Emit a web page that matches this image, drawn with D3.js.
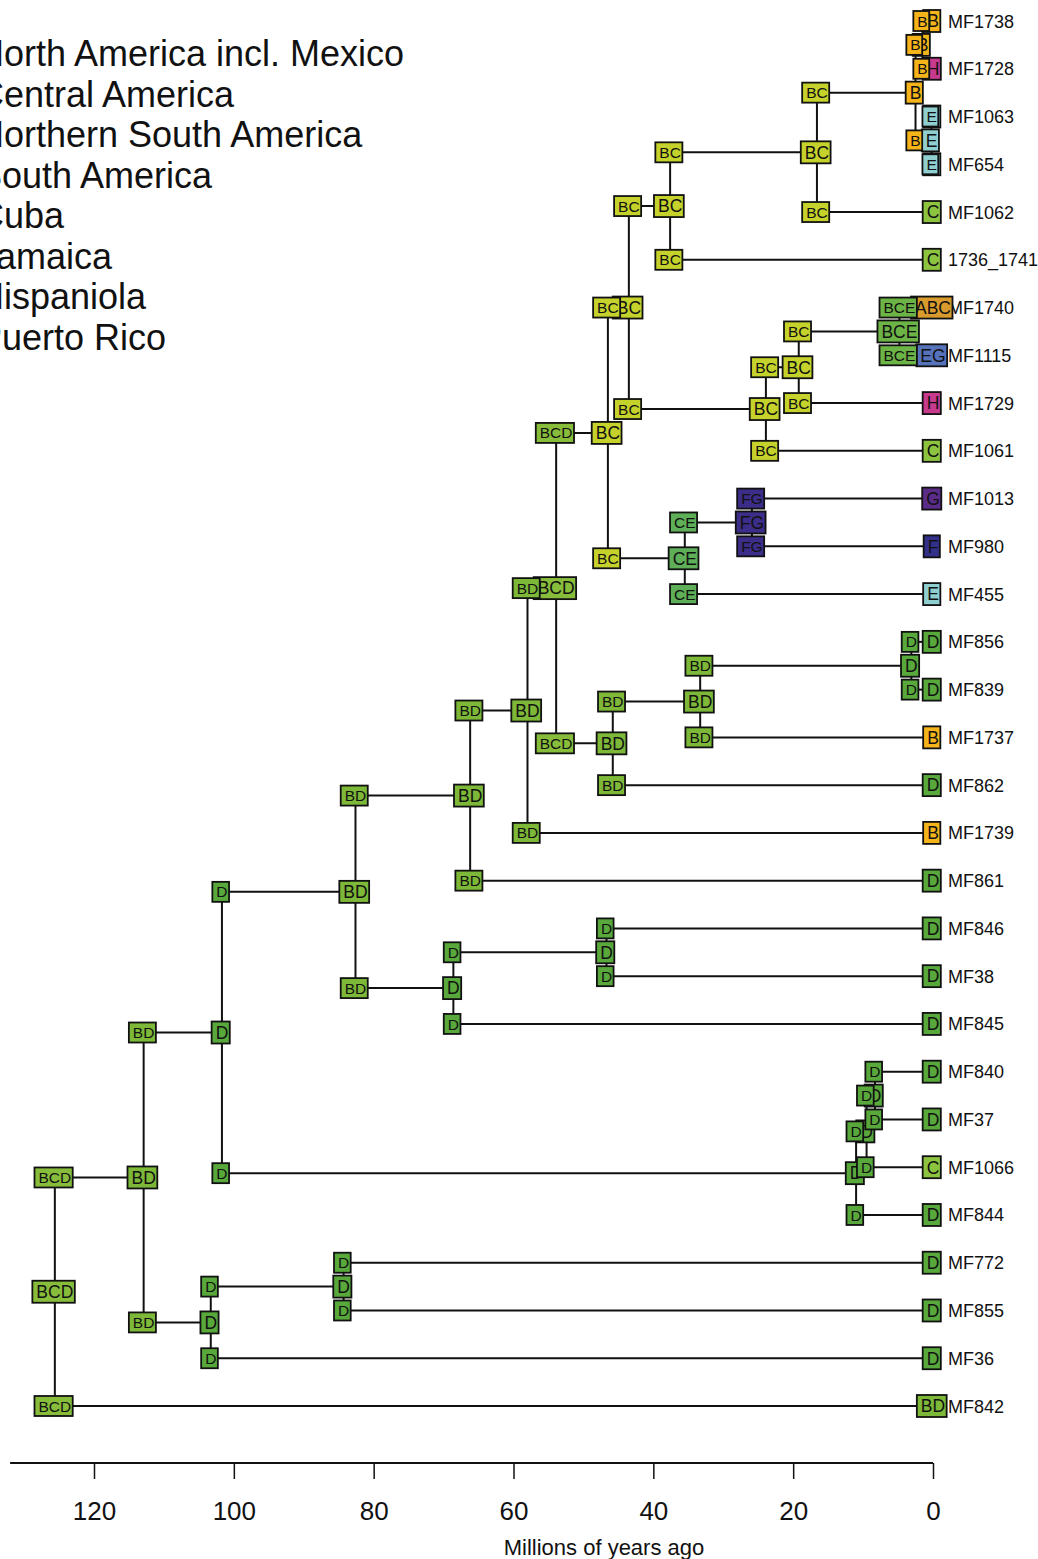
<!DOCTYPE html>
<html>
<head>
<meta charset="utf-8">
<script src="https://cdn.jsdelivr.net/npm/d3@7"></script>
<style>
  html, body { margin: 0; padding: 0; background: #ffffff; }
  svg { display: block; }
  text { font-family: "Liberation Sans", Arial, Helvetica, sans-serif; }
</style>
</head>
<body>
<svg id="chart" width="1038" height="1559"></svg>
<script>
// ---- Tips, listed top to bottom ----
const tipNames   = ["MF1738","MF1728","MF1063","MF654","MF1062","1736_1741","MF1740","MF1115","MF1729","MF1061",
                    "MF1013","MF980","MF455","MF856","MF839","MF1737","MF862","MF1739","MF861","MF846",
                    "MF38","MF845","MF840","MF37","MF1066","MF844","MF772","MF855","MF36","MF842"];
const tipStates  = ["B","H","E","E","C","C","ABC","EG","H","C",
                    "G","F","E","D","D","B","D","B","D","D",
                    "D","D","D","D","C","D","D","D","D","BD"];
const tipParents = ["n19","n19","n20","n20","n17","n15","n22","n22","n21","n16",
                    "n23","n23","n14","n25","n25","n24","n12","n9","n7","n26",
                    "n26","n8","n28","n28","n27","n6","n29","n29","n4","n1"];
// range at the base of each tip branch (just after the split)
const tipCorners = ["B","B","E","E","BC","BC","BCE","BCE","BC","BC",
                    "FG","FG","CE","D","D","BD","BD","BD","BD","D",
                    "D","D","D","D","D","D","D","D","D","BCD"];

// ---- Internal nodes ----
const nodeIds     = ["n1","n2","n3","n4","n5","n6","n7","n8","n9","n10",
                     "n11","n12","n13","n14","n15","n16","n17","n18","n19","n20",
                     "n21","n22","n23","n24","n25","n26","n27","n28","n29"];
const nodeParents = ["","n1","n2","n2","n3","n3","n5","n5","n7","n9",
                     "n10","n10","n11","n11","n13","n13","n15","n17","n18","n18",
                     "n16","n21","n14","n12","n24","n8","n6","n27","n4"];
// node ages in millions of years
const nodeAges    = [125.6,112.9,101.7,103.3,82.6,11.0,66.2,68.6,58.0,53.9,
                     46.5,45.8,43.5,35.5,37.6,23.9,16.6,2.5,1.5,0.2,
                     19.2,4.8,25.9,33.3,3.1,46.7,9.5,8.3,84.3];
// most probable range at each node
const nodeStates  = ["BCD","BD","D","D","BD","D","BD","D","BD","BCD",
                     "BC","BD","BC","CE","BC","BC","BC","B","B","E",
                     "BC","BCE","FG","BD","D","D","D","D","D"];
// range at the base of the branch leading to each node
const nodeCorners = ["","BCD","BD","BD","D","D","BD","BD","BD","BD",
                     "BCD","BCD","BC","BC","BC","BC","BC","BC","B","B",
                     "BC","BC","CE","BD","BD","D","D","D","D"];

// ---- Area key ----
const areaNames = ["North America incl. Mexico","Central America","Northern South America","South America",
                   "Cuba","Jamaica","Hispaniola","Puerto Rico"];

// ---- Range colours ----
const rangeKeys   = ["B","C","D","E","F","G","H","BC","BD","BCD","CE","BCE","ABC","EG","FG"];
const rangeColors = ["#F4B41A","#8DC43F","#58A83C","#8FCFD0","#33308A","#5A2C88","#C83A8E",
                     "#C6D22C","#7DB838","#88BD3C","#5EAF58","#6DB446","#D99B2D","#5572BA","#3C2E88"];

// ---- Time axis ----
const tickValues = [120,100,80,60,40,20,0];
const axisMax = 132;
const axisTitle = "Millions of years ago";

// ------------------------------------------------------------
const svg = d3.select("#chart");
const color = d3.scaleOrdinal().domain(rangeKeys).range(rangeColors);

const x = d3.scaleLinear().domain([0, 120]).range([933, 94]);
const y = d3.scaleLinear().domain([0, tipNames.length - 1]).range([21, 1406]);

// Build the tree
const rows = nodeIds.map((id, i) => ({ id, parent: nodeParents[i] || null, age: nodeAges[i],
                                       state: nodeStates[i], corner: nodeCorners[i] }))
  .concat(tipNames.map((id, i) => ({ id, parent: tipParents[i], age: 0,
                                     state: tipStates[i], corner: tipCorners[i], tip: i })));
const root = d3.stratify().id(d => d.id).parentId(d => d.parent)(rows);

root.eachAfter(n => {
  n.px = x(n.data.age);
  if (n.children) {
    const ys = n.children.map(c => c.py);
    n.py = (d3.min(ys) + d3.max(ys)) / 2;
  } else {
    n.py = y(n.data.tip);
  }
});

const nodes = root.descendants();

// text measurement for box widths
const ctx = document.createElement("canvas").getContext("2d");
function textWidth(s, fs) {
  ctx.font = fs + "px 'Liberation Sans', Arial, sans-serif";
  return ctx.measureText(s).width;
}

// ---- Branches ----
const gTree = svg.append("g").attr("stroke", "#111").attr("stroke-width", 2).attr("fill", "none");
nodes.filter(n => n.parent).forEach(n => {
  gTree.append("line").attr("x1", n.parent.px).attr("x2", n.px).attr("y1", n.py).attr("y2", n.py);
});
nodes.filter(n => n.children).forEach(n => {
  const ys = n.children.map(c => c.py);
  gTree.append("line").attr("x1", n.px).attr("x2", n.px).attr("y1", d3.min(ys)).attr("y2", d3.max(ys));
});

// ---- Tip labels ----
svg.append("g").selectAll("text").data(root.leaves()).join("text")
  .attr("x", d => d.px + 15)
  .attr("y", d => d.py + 6.5)
  .attr("font-size", 18)
  .attr("fill", "#111")
  .text(d => d.id);

// ---- Range boxes ----
function drawBox(g, cx, cy, label, fs, h) {
  const tw = textWidth(label, fs);
  const left = cx - tw / 2 - 4, right = cx + tw / 2 + 1.5;
  g.append("rect")
    .attr("x", left).attr("y", cy - h / 2)
    .attr("width", right - left).attr("height", h)
    .attr("fill", color(label))
    .attr("stroke", "#111").attr("stroke-width", 1.8);
  g.append("text")
    .attr("x", cx).attr("y", cy + fs * 0.36)
    .attr("text-anchor", "middle")
    .attr("font-size", fs)
    .attr("fill", "#111")
    .text(label);
}

const gNodes = svg.append("g");
nodes.forEach(n => drawBox(gNodes, n.px, n.py, n.data.state, 17.5, 22));

const gCorners = svg.append("g");
nodes.filter(n => n.parent).forEach(n => drawBox(gCorners, n.parent.px, n.py, n.data.corner, 15.5, 20));

// ---- Area key ----
svg.append("g").selectAll("text").data(areaNames).join("text")
  .attr("x", -22)
  .attr("y", (d, i) => 66 + i * 40.5)
  .attr("font-size", 36)
  .attr("fill", "#111")
  .text(d => d);

// ---- Time axis ----
const axisY = 1463;
const gAxis = svg.append("g").attr("transform", `translate(0,${axisY})`)
  .call(d3.axisBottom(x).tickValues(tickValues).tickSize(16).tickPadding(23).tickFormat(d3.format("d")));
gAxis.select(".domain").remove();
gAxis.selectAll(".tick line").attr("stroke", "#111").attr("stroke-width", 1.5);
gAxis.selectAll(".tick text").attr("font-size", 26).attr("fill", "#111")
  .attr("font-family", "'Liberation Sans', Arial, sans-serif");
gAxis.append("line").attr("x1", x(axisMax)).attr("x2", x(0)).attr("y1", 0).attr("y2", 0)
  .attr("stroke", "#111").attr("stroke-width", 2);

svg.append("text")
  .attr("x", 604).attr("y", 1555)
  .attr("text-anchor", "middle")
  .attr("font-size", 22)
  .attr("fill", "#111")
  .text(axisTitle);
</script>
</body>
</html>
